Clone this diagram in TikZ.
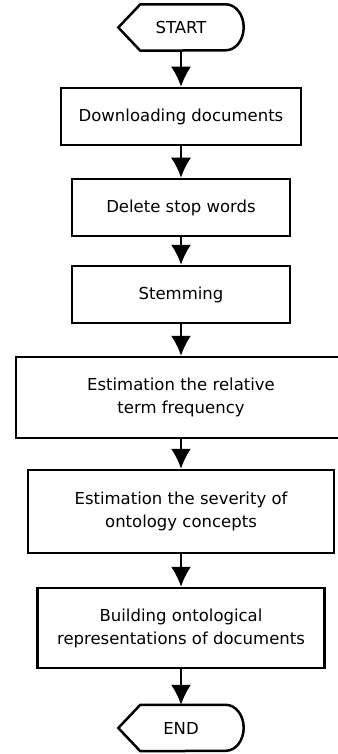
\documentclass[tikz,border=0pt]{standalone}
\usepackage{fontspec}
\setmainfont{DejaVu Sans}
\usetikzlibrary{arrows.meta}

\begin{document}
\begin{tikzpicture}[x=1pt, y=-1pt,
        every node/.style={font=\fontsize{16.5}{23}\selectfont, align=center}]
        \tikzstyle{stepBox} = [rectangle, draw=black, line width=2.5pt, fill=white, inner sep=0pt]
        \tikzstyle{termBox} = [rectangle, inner sep=0pt, minimum width=125pt, minimum height=46pt]
        \tikzstyle{termEdge} = [draw=black, line width=2.5pt, line join=miter]
        \tikzstyle{arrowEdge} = [draw=black, line width=2pt, -{Latex[length=20pt, width=20pt]}]
        \useasboundingbox (0,0) rectangle (337,754);
        \node[termBox] (start) at (181,27.5) {START};
        \node[stepBox, minimum width=240pt, minimum height=57pt] (1) at (181,116.5) {Downloading documents};
        \node[stepBox, minimum width=218pt, minimum height=57pt] (2) at (181,207.5) {Delete stop words};
        \node[stepBox, minimum width=218pt, minimum height=57pt] (3) at (181,294.5) {Stemming};
        \node[stepBox, minimum width=330pt, minimum height=81pt] (4) at (181,397.5) {Estimation the relative\\term frequency};
        \node[stepBox, minimum width=306pt, minimum height=83pt] (5) at (181,511.5) {Estimation the severity of\\ontology concepts};
        \node[stepBox, minimum width=287pt, minimum height=80pt] (6) at (181,628) {Building ontological\\representations of documents};
        \node[termBox] (end) at (181,728) {END};
        \foreach \n in {start,end}
            \path[termEdge] (\n.west) -- ([xshift=22pt]\n.north west)
                -- ([xshift=-18pt]\n.north east)
                arc[start angle=90, end angle=-90, x radius=18pt, y radius=23pt]
                -- ([xshift=22pt]\n.south west) -- cycle;
        \foreach \from/\to in {start/1, 1/2, 2/3, 3/4, 4/5, 5/6, 6/end}
            \path[arrowEdge] (\from) -- (\to);
    \end{tikzpicture}
\end{document}
